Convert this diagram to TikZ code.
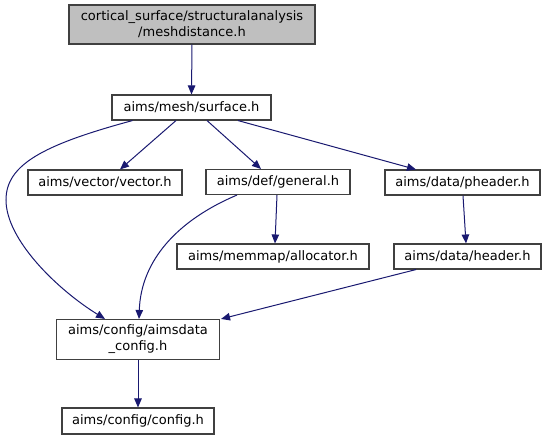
\documentclass[tikz,border=0pt]{standalone}
\usepackage{fontspec}
\setmainfont{DejaVu Sans}
\usetikzlibrary{arrows.meta,calc}
\definecolor{edgeblue}{HTML}{191970}
\definecolor{boxline}{HTML}{404040}
\definecolor{grayfill}{HTML}{BFBFBF}
\begin{document}
\begin{tikzpicture}[x=1pt,y=-1pt,
  filebox/.style={draw=boxline,line width=1.1pt,fill=white,rectangle,inner sep=0pt,align=center,
    font=\fontsize{13}{16}\selectfont},
  dep/.style={draw=edgeblue,line width=1pt,-{Triangle[length=9pt,width=7.5pt]}}]
\useasboundingbox (0,0) rectangle (547,440);
\node[filebox,fill=grayfill,minimum width=246pt,minimum height=39pt] (n1) at (192,24.5) {cortical\_surface/structuralanalysis\\/meshdistance.h};
\node[filebox,minimum width=159pt,minimum height=25pt] (n2) at (191.5,107.5) {aims/mesh/surface.h};
\node[filebox,minimum width=154pt,minimum height=25pt] (n3) at (105,182.5) {aims/vector/vector.h};
\node[filebox,minimum width=144pt,minimum height=25pt] (n4) at (278,182) {aims/def/general.h};
\node[filebox,minimum width=155pt,minimum height=25pt] (n5) at (462.5,182.5) {aims/data/pheader.h};
\node[filebox,minimum width=192pt,minimum height=25pt] (n6) at (273,256.5) {aims/memmap/allocator.h};
\node[filebox,minimum width=147pt,minimum height=25pt] (n7) at (467.5,256.5) {aims/data/header.h};
\node[filebox,minimum width=163pt,minimum height=40pt] (n8) at (138,339.5) {aims/config/aimsdata\\\_config.h};
\node[filebox,minimum width=152pt,minimum height=26pt] (n9) at (138,421) {aims/config/config.h};

\draw[dep] (n1.south) -- (n2.north);
\draw[dep] ([xshift=-15.5pt]n2.south) -- ([xshift=15pt]n3.north);
\draw[dep] ([xshift=15.5pt]n2.south) -- ([xshift=-17pt]n4.north);
\draw[dep] ([xshift=46.5pt]n2.south) -- ([xshift=-46.5pt]n5.north);
\draw[dep] ([xshift=-1pt]n4.south) -- ([xshift=2pt]n6.north);
\draw[dep] ([xshift=0.5pt]n5.south) -- ([xshift=-1.5pt]n7.north);
\draw[dep] ([xshift=-51.5pt]n7.south) -- ([xshift=1pt]n8.north east);
\draw[dep] (n8.south) -- (n9.north);
\draw[dep] ([xshift=-59pt]n2.south) .. controls (42,145) and (6,165) .. (6,200)
  .. controls (6,240) and (58,290) .. ([xshift=-33pt]n8.north);
\draw[dep] ([xshift=-41pt]n4.south) .. controls (178,220) and (141,260) .. ([xshift=1pt]n8.north);
\end{tikzpicture}
\end{document}
